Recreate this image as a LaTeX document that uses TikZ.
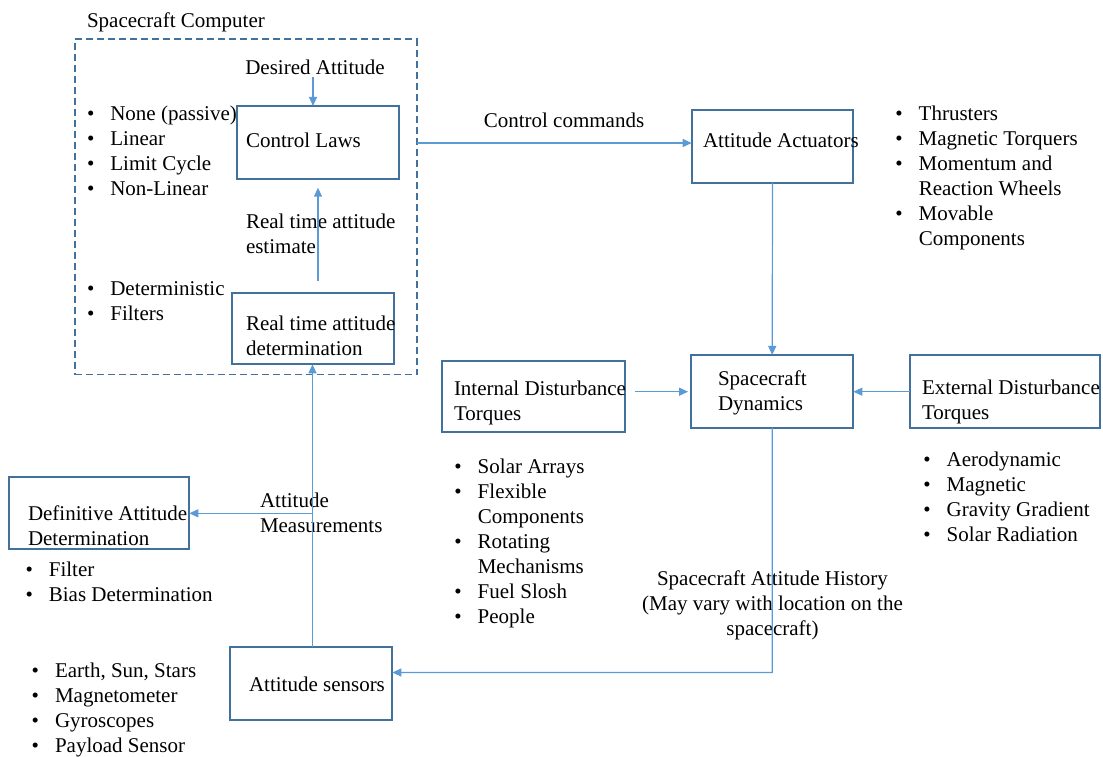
\documentclass[tikz,border=0pt]{standalone}
\usepackage{fontspec}
\setmainfont{Liberation Serif}
\usetikzlibrary{arrows.meta}
\definecolor{boxblue}{HTML}{41719C}
\definecolor{linkblue}{HTML}{5B9BD5}
% list lines: bulleted line and continuation line
\newcommand\bitem{\strut\textbullet\hspace{16pt}}
\newcommand\bcont{\strut\phantom{\textbullet}\hspace{16pt}}
\begin{document}
\begin{tikzpicture}[x=1pt,y=-1pt,
  every node/.style={font=\fontsize{21}{25}\selectfont, inner sep=0pt, outer sep=0pt},
  box/.style={draw=boxblue, line width=1.8pt, rectangle},
  txt/.style={anchor=west, align=left},
  link/.style={draw=linkblue, line width=1.2pt},
  arr/.style={link, -{Triangle[length=9pt,width=8pt]}}]
\useasboundingbox (0,0) rectangle (1103,756);

% spacecraft computer boundary
\node[draw=boxblue, line width=1.8pt, dash pattern=on 7pt off 4pt, minimum width=342pt, minimum height=335.5pt] (comp) at (245.6,206.8) {};
\node[txt] (compl) at (87,22) {\strut Spacecraft Computer};

% boxes
\node[box, minimum width=162.6pt, minimum height=72.7pt] (cl) at (318,142.3) {};
\node[box, minimum width=162.3pt, minimum height=71.6pt] (rtd) at (312.9,328.5) {};
\node[box, minimum width=161.6pt, minimum height=73pt] (act) at (772.5,146.2) {};
\node[box, minimum width=162.3pt, minimum height=72.7pt] (dyn) at (772.2,391.3) {};
\node[box, minimum width=183pt, minimum height=71.3pt] (int) at (533.5,396.3) {};
\node[box, minimum width=190pt, minimum height=72.7pt] (ext) at (1005,391.3) {};
\node[box, minimum width=180pt, minimum height=72.3pt] (def) at (99.3,512.8) {};
\node[box, minimum width=162.3pt, minimum height=73.3pt] (sen) at (311.2,683.3) {};

% box texts
\node[txt] (clt) at (246,142) {\strut Control Laws};
\node[txt] (rtdt) at (246,337.8) {\strut Real time attitude\\\strut determination};
\node[txt] (actt) at (703,142.5) {\strut Attitude Actuators};
\node[txt] (dynt) at (718,392.8) {\strut Spacecraft\\\strut Dynamics};
\node[txt] (intt) at (454,402.5) {\strut Internal Disturbance\\\strut Torques};
\node[txt] (extt) at (922,401.5) {\strut External Disturbance\\\strut Torques};
\node[txt] (deft) at (28,527.5) {\strut Definitive Attitude\\\strut Determination};
\node[txt] (sent) at (249,686.3) {\strut Attitude sensors};

% connector labels
\node[anchor=center] (desl) at (315,69) {\strut Desired Attitude};
\node[txt] (estl) at (246,235.7) {\strut Real time attitude\\\strut estimate};
\node[anchor=center] (cmdl) at (564,122.3) {\strut Control commands};
\node[txt] (meal) at (260,514.5) {\strut Attitude\\\strut Measurements};
\node[align=center] (hist) at (772.5,605.3) {\strut Spacecraft Attitude History\\\strut (May vary with location on the\\\strut spacecraft)};

% bullet lists
\node[txt] (bl1) at (87,152.5) {\bitem None (passive)\\\bitem Linear\\\bitem Limit Cycle\\\bitem Non-Linear};
\node[txt] (bl2) at (87,303.2) {\bitem Deterministic\\\bitem Filters};
\node[txt] (bl3) at (895.4,177.8) {\bitem Thrusters\\\bitem Magnetic Torquers\\\bitem Momentum and\\\bcont Reaction Wheels\\\bitem Movable\\\bcont Components};
\node[txt] (bl4) at (454.4,543) {\bitem Solar Arrays\\\bitem Flexible\\\bcont Components\\\bitem Rotating\\\bcont Mechanisms\\\bitem Fuel Slosh\\\bitem People};
\node[txt] (bl5) at (923.4,498.5) {\bitem Aerodynamic\\\bitem Magnetic\\\bitem Gravity Gradient\\\bitem Solar Radiation};
\node[txt] (bl6) at (25.5,583.5) {\bitem Filter\\\bitem Bias Determination};
\node[txt] (bl7) at (31.7,710.3) {\bitem Earth, Sun, Stars\\\bitem Magnetometer\\\bitem Gyroscopes\\\bitem Payload Sensor};

% connectors
\coordinate (desin) at (313,77);
\draw[arr] (desin) -- (cl.north -| desin);
\draw[arr, shorten >=9pt, shorten <=12pt] (rtd.north -| 318,0) -- (cl.south -| 318,0);
\draw[arr] (comp.east |- 0,143) -- (act.west |- 0,143);
\draw[arr] (act.south) -- (dyn.north);
\draw[arr, shorten <=10pt, shorten >=3pt] (int.east |- 0,391.7) -- (dyn.west |- 0,391.7);
\draw[arr] (ext.west |- 0,391.7) -- (dyn.east |- 0,391.7);
\coordinate (hcorner) at (772.3,672.5);
\draw[arr] (dyn.south) -- (hcorner) -- (sen.east |- hcorner);
\coordinate (mbranch) at (312.5,513.3);
\draw[arr] (sen.north -| mbranch) -- (rtd.south -| mbranch);
\draw[arr] (mbranch) -- (def.east |- mbranch);
\end{tikzpicture}
\end{document}
